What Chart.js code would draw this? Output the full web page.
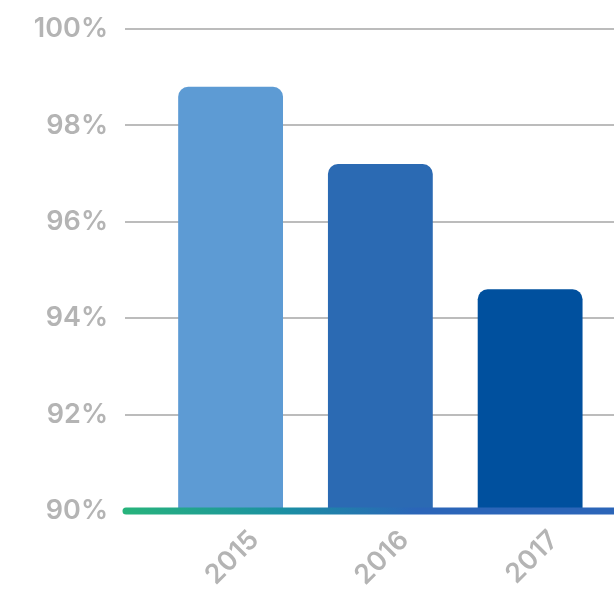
<!DOCTYPE html>
<html>
<head>
<meta charset="utf-8">
<script src="https://cdn.jsdelivr.net/npm/chart.js@4"></script>
<style>
  html, body { margin: 0; padding: 0; background: #fff; overflow: hidden; }
  #wrap { width: 614px; height: 591px; position: relative; }
</style>
</head>
<body>
<div id="wrap"><canvas id="chart"></canvas></div>
<script>
// years shown on the x axis and the share for each one
const years = [2015, 2016, 2017];
const shares = [98.8, 97.2, 94.6];
const barColors = ['#5d9bd4', '#2b6ab3', '#00509e'];
// y axis range (percent)
const yMin = 90;
const yMax = 100;
const yStep = 2;

const axisFont = { family: 'Inter', size: 27, weight: '600' };
const axisGrey = '#b4b4b4';

// gradient base line drawn over the bottom of the bars
const baseLine = {
  id: 'baseLine',
  afterDatasetsDraw(chart) {
    const { ctx, chartArea, scales } = chart;
    const y = scales.y.getPixelForValue(yMin);
    const x0 = chartArea.left + 1;
    const g = ctx.createLinearGradient(x0, 0, x0 + 290, 0);
    g.addColorStop(0, '#27b37c');
    g.addColorStop(0.55, '#1b8fa3');
    g.addColorStop(1, '#2b65b8');
    ctx.save();
    ctx.beginPath();
    ctx.lineCap = 'round';
    ctx.lineWidth = 7;
    ctx.strokeStyle = g;
    ctx.moveTo(x0, y);
    ctx.lineTo(chart.width + 10, y);
    ctx.stroke();
    ctx.restore();
  }
};

new Chart(document.getElementById('chart'), {
  type: 'bar',
  data: {
    datasets: [{
      data: years.map((x, i) => ({ x: x, y: shares[i] })),
      backgroundColor: barColors,
      borderRadius: 10,
      borderSkipped: 'start',
      base: yMin,
      categoryPercentage: 1,
      barPercentage: 0.7
    }]
  },
  options: {
    responsive: true,
    maintainAspectRatio: false,
    animation: false,
    layout: { padding: { top: 29, left: 0, right: 0, bottom: 0 } },
    plugins: { legend: { display: false }, tooltip: { enabled: false } },
    scales: {
      x: {
        type: 'linear',
        offset: false,
        min: 2014.295,
        max: 2017.56,
        grid: { display: false, drawTicks: false },
        border: { display: false },
        afterFit: s => { s.height = 80; },
        ticks: {
          stepSize: 1,
          includeBounds: false,
          minRotation: 45,
          maxRotation: 45,
          padding: 13,
          labelOffset: 24,
          color: axisGrey,
          font: axisFont,
          callback: v => String(v)
        }
      },
      y: {
        min: yMin,
        max: yMax,
        grid: { color: '#bcbcbc', lineWidth: 2, drawTicks: false },
        border: { display: false },
        afterFit: s => { s.width = 125; s.paddingTop = 0; s.paddingBottom = 0; },
        ticks: {
          stepSize: yStep,
          padding: 17,
          color: axisGrey,
          font: axisFont,
          callback: v => v + '%'
        }
      }
    }
  },
  plugins: [baseLine]
});
</script>
</body>
</html>
